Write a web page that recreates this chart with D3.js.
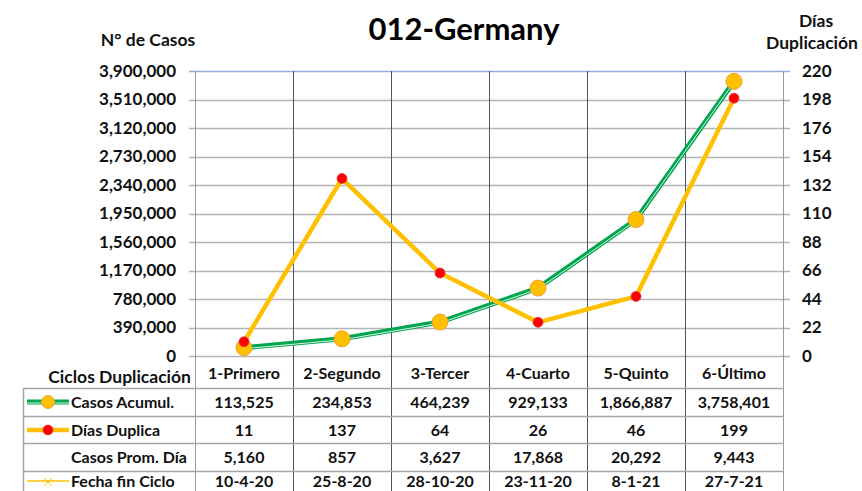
<!DOCTYPE html>
<html>
<head>
<meta charset="utf-8">
<script src="https://cdn.jsdelivr.net/npm/d3@7"></script>
<style>
  body { margin: 0; background: #fff; }
  svg { display: block; font-family: Lato, "Open Sans", sans-serif; font-weight: bold; }
  .tick-text { font-size: 17px; fill: #111; }
  .axis-title { font-size: 17.5px; fill: #111; }
  .cell-text { font-size: 16px; fill: #111; }
</style>
</head>
<body>
<svg id="chart" width="862" height="491"></svg>
<script>
// ========= data =========
const categories = ["1-Primero", "2-Segundo", "3-Tercer", "4-Cuarto", "5-Quinto", "6-Último"];
const casosAcumul = [113525, 234853, 464239, 929133, 1866887, 3758401];
const diasDuplica = [11, 137, 64, 26, 46, 199];
const casosProm = [5160, 857, 3627, 17868, 20292, 9443];
const fechaFin = ["10-4-20", "25-8-20", "28-10-20", "23-11-20", "8-1-21", "27-7-21"];
const leftTicks = [0, 390000, 780000, 1170000, 1560000, 1950000, 2340000, 2730000, 3120000, 3510000, 3900000];
const rightTicks = [0, 22, 44, 66, 88, 110, 132, 154, 176, 198, 220];

// ========= svg =========
const svg = d3.select("#chart");
const plot = { left: 195, right: 783, top: 71, bottom: 356 };

const x = d3.scaleBand().domain(categories).range([plot.left, plot.right]);
const yL = d3.scaleLinear().domain([0, 3900000]).range([plot.bottom, plot.top]);
const yR = d3.scaleLinear().domain([0, 220]).range([plot.bottom, plot.top]);
const fmt = d3.format(",");

// horizontal gridlines
svg.append("g").selectAll("line")
    .data(leftTicks)
    .join("line")
    .attr("x1", plot.left - 6)
    .attr("x2", plot.right + 7)
    .attr("y1", d => Math.round(yL(d)) + 0.5)
    .attr("y2", d => Math.round(yL(d)) + 0.5)
    .attr("stroke", d => d === 3900000 ? "#8fb0dc" : "#b3b3b3")
    .attr("stroke-width", 1.5);

// vertical category lines (run down through the table)
const bounds = categories.map(c => x(c)).concat([plot.right]);
svg.append("g").selectAll("line")
    .data(bounds)
    .join("line")
    .attr("x1", d => Math.round(d) + 0.5)
    .attr("x2", d => Math.round(d) + 0.5)
    .attr("y1", plot.top)
    .attr("y2", 491)
    .attr("stroke", (d, i) => (i === 0 || i === bounds.length - 1) ? "#9a9a9a" : "#4a5570")
    .attr("stroke-width", 1);

// ========= axes labels =========
svg.append("g").selectAll("text")
    .data(leftTicks)
    .join("text")
    .attr("class", "tick-text")
    .attr("x", 176)
    .attr("y", d => yL(d))
    .attr("dy", "0.35em")
    .attr("text-anchor", "end")
    .text(d => fmt(d));

svg.append("g").selectAll("text")
    .data(rightTicks)
    .join("text")
    .attr("class", "tick-text")
    .attr("x", 802)
    .attr("y", d => yR(d))
    .attr("dy", "0.35em")
    .text(d => d);

svg.append("text")
    .attr("x", 464).attr("y", 40)
    .attr("text-anchor", "middle")
    .style("font-size", "31px")
    .text("012-Germany");

svg.append("text").attr("class", "axis-title")
    .attr("x", 148).attr("y", 46)
    .attr("text-anchor", "middle")
    .text("N° de Casos");

svg.append("text").attr("class", "axis-title")
    .attr("x", 816).attr("y", 27)
    .attr("text-anchor", "middle")
    .text("Días");
svg.append("text").attr("class", "axis-title")
    .attr("x", 812).attr("y", 49)
    .attr("text-anchor", "middle")
    .text("Duplicación");

// ========= series =========
const cx = d => x(d) + x.bandwidth() / 2;

const greenLine = d3.line().x((d, i) => cx(categories[i])).y(d => yL(d));
svg.append("path")
    .attr("d", greenLine(casosAcumul))
    .attr("fill", "none")
    .attr("stroke", "#00a550")
    .attr("stroke-width", 5);
svg.append("path")
    .attr("d", greenLine(casosAcumul))
    .attr("transform", "translate(0,1)")
    .attr("fill", "none")
    .attr("stroke", "#d8f3e2")
    .attr("stroke-width", 1);

const yellowLine = d3.line().x((d, i) => cx(categories[i])).y(d => yR(d));
svg.append("path")
    .attr("d", yellowLine(diasDuplica))
    .attr("fill", "none")
    .attr("stroke", "#ffc000")
    .attr("stroke-width", 4.5)
    .attr("stroke-linejoin", "round");

svg.append("g").selectAll("circle")
    .data(casosAcumul)
    .join("circle")
    .attr("cx", (d, i) => cx(categories[i]))
    .attr("cy", d => yL(d))
    .attr("r", 8)
    .attr("fill", "#ffc000")
    .attr("stroke", "#f0a030")
    .attr("stroke-width", 1);

svg.append("g").selectAll("circle")
    .data(diasDuplica)
    .join("circle")
    .attr("cx", (d, i) => cx(categories[i]))
    .attr("cy", d => yR(d))
    .attr("r", 5)
    .attr("fill", "#ff0000")
    .attr("stroke", "#d04040")
    .attr("stroke-width", 0.8);

// ========= data table =========
const rowLines = [388, 416, 443, 471];
const rowMid = [402, 430, 457, 481];

svg.append("g").selectAll("line")
    .data(rowLines)
    .join("line")
    .attr("x1", 23)
    .attr("x2", plot.right + 1)
    .attr("y1", d => d + 0.5)
    .attr("y2", d => d + 0.5)
    .attr("stroke", "#a6a6a6")
    .attr("stroke-width", 1.5);

svg.append("line")
    .attr("x1", 23.5).attr("x2", 23.5)
    .attr("y1", 388).attr("y2", 491)
    .attr("stroke", "#a6a6a6")
    .attr("stroke-width", 1.5);

svg.append("text").attr("class", "axis-title")
    .attr("x", 191).attr("y", 377)
    .attr("dy", "0.35em")
    .attr("text-anchor", "end")
    .text("Ciclos Duplicación");

svg.append("g").selectAll("text")
    .data(categories)
    .join("text")
    .attr("class", "cell-text")
    .attr("x", d => cx(d))
    .attr("y", 373)
    .attr("dy", "0.35em")
    .attr("text-anchor", "middle")
    .text(d => d);

const rows = [
    { name: "Casos Acumul.", values: casosAcumul.map(fmt) },
    { name: "Días Duplica", values: diasDuplica.map(String) },
    { name: "Casos Prom. Día", values: casosProm.map(fmt) },
    { name: "Fecha fin Ciclo", values: fechaFin }
];

rows.forEach((row, r) => {
    svg.append("text").attr("class", "cell-text")
        .attr("x", 71).attr("y", rowMid[r])
        .attr("dy", "0.35em")
        .text(row.name);
    svg.append("g").selectAll("text")
        .data(row.values)
        .join("text")
        .attr("class", "cell-text")
        .attr("x", (d, i) => cx(categories[i]))
        .attr("y", rowMid[r])
        .attr("dy", "0.35em")
        .attr("text-anchor", "middle")
        .text(d => d);
});

// legend keys in table
const key = svg.append("g");
key.append("line").attr("x1", 27).attr("x2", 69).attr("y1", rowMid[0]).attr("y2", rowMid[0])
    .attr("stroke", "#00a550").attr("stroke-width", 5);
key.append("line").attr("x1", 27).attr("x2", 69).attr("y1", rowMid[0] + 1).attr("y2", rowMid[0] + 1)
    .attr("stroke", "#d8f3e2").attr("stroke-width", 1);
key.append("circle").attr("cx", 48).attr("cy", rowMid[0]).attr("r", 6.5)
    .attr("fill", "#ffc000").attr("stroke", "#f0a030");

key.append("line").attr("x1", 27).attr("x2", 69).attr("y1", rowMid[1]).attr("y2", rowMid[1])
    .attr("stroke", "#ffc000").attr("stroke-width", 4.5);
key.append("circle").attr("cx", 48).attr("cy", rowMid[1]).attr("r", 5)
    .attr("fill", "#ff0000").attr("stroke", "#d04040").attr("stroke-width", 0.8);

key.append("line").attr("x1", 27).attr("x2", 69).attr("y1", rowMid[3]).attr("y2", rowMid[3])
    .attr("stroke", "#ffc000").attr("stroke-width", 1.5);
key.append("path")
    .attr("d", d3.symbol(d3.symbolX, 40)())
    .attr("transform", `translate(48,${rowMid[3] + 1})`)
    .attr("fill", "none")
    .attr("stroke", "#ffc000")
    .attr("stroke-width", 1);
</script>
</body>
</html>
